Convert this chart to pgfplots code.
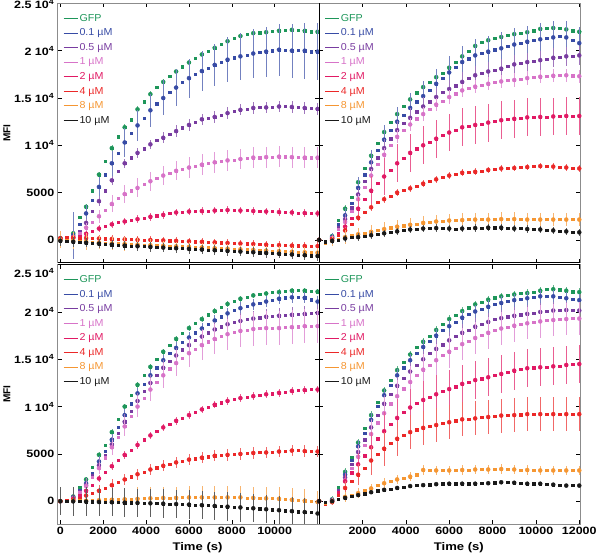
\documentclass[border=0pt]{standalone}
\usepackage{fontspec}
\setmainfont{Liberation Sans}
\newfontfamily\wide{Liberation Sans}[FakeStretch=1.18]
\newfontfamily\lgf{Liberation Sans}[FakeStretch=1.06]
\usepackage{pgfplots}
\pgfplotsset{compat=1.18}
\usepackage{pgfplotstable}

\definecolor{cg}{RGB}{30,150,90}
\definecolor{cb}{RGB}{55,75,165}
\definecolor{cp}{RGB}{120,60,160}
\definecolor{ck}{RGB}{215,115,200}
\definecolor{cc}{RGB}{225,25,100}
\definecolor{cr}{RGB}{235,40,40}
\definecolor{co}{RGB}{245,150,50}
\definecolor{cn}{RGB}{25,25,25}

\newcommand{\tk}{\wide\bfseries\fontsize{10.5}{12}\selectfont}
\newcommand{\xl}{\wide\bfseries\fontsize{11}{13}\selectfont}

\pgfplotstableread{
t g b p k c r o n eg eb ep ek ec er eo en
0 200 100 100 100 100 200 0 -100 300 300 300 300 300 400 900 500
300 300 200 150 150 100 250 -50 -150 300 300 300 300 300 400 900 500
600 700 500 300 300 200 250 -100 -200 300 2500 300 300 300 400 900 500
900 2400 1700 900 700 400 200 -150 -250 300 2500 400 300 300 400 900 500
1200 3500 2800 1800 1300 650 200 -200 -300 300 900 400 500 300 400 900 500
1500 5200 4200 3000 1900 900 180 -250 -350 300 1000 500 600 400 400 900 500
1800 6900 5600 4100 2500 1200 150 -300 -400 300 1100 500 700 400 400 700 500
2100 8300 6900 5200 3100 1450 130 -330 -450 300 1200 500 800 400 400 700 500
2400 9700 8100 6300 3800 1650 100 -370 -500 300 1300 500 900 400 400 700 500
2700 10900 9200 7300 4400 1850 80 -400 -550 300 1400 500 1000 400 400 700 500
3000 11900 10300 8100 4850 1950 60 -430 -600 300 1500 500 1000 400 400 700 500
3300 12700 11300 8700 5200 2100 40 -470 -630 300 1600 500 1000 400 400 700 500
3600 13800 12100 9200 5500 2200 20 -500 -670 300 1650 500 1000 400 400 700 500
3900 14600 12900 9650 5850 2300 0 -530 -700 300 1700 500 1000 400 400 700 500
4200 15400 13700 10100 6200 2450 0 -560 -740 300 1750 500 1000 400 400 700 500
4500 16100 14400 10500 6550 2550 -20 -590 -770 300 1800 600 1000 400 400 700 500
4800 16700 15000 10800 6800 2650 -50 -620 -810 300 1850 600 1000 400 400 500 500
5100 17300 15600 11150 7050 2800 -80 -650 -840 300 1900 600 1000 400 400 500 500
5400 17800 16100 11500 7300 2900 -100 -680 -880 300 1950 600 1000 400 400 500 500
5700 18300 16650 11850 7500 2950 -120 -700 -910 300 2000 600 1100 400 400 500 500
6000 18750 17100 12150 7650 3000 -150 -730 -950 300 2050 600 1100 400 400 500 500
6300 19200 17500 12450 7800 3000 -180 -760 -980 300 2100 600 1100 400 400 500 500
6600 19600 17850 12750 7950 3050 -200 -800 -1020 300 2150 600 1100 400 400 500 500
6900 19950 18150 12900 8100 3050 -230 -830 -1050 300 2200 600 1100 400 400 500 500
7200 20300 18500 13000 8200 3100 -260 -870 -1090 300 2250 600 1100 400 400 500 500
7500 20650 18800 13150 8300 3100 -300 -900 -1120 300 2300 600 1100 400 400 500 500
7800 21000 19050 13400 8400 3150 -320 -930 -1160 300 2350 600 1100 400 400 500 500
8100 21350 19250 13600 8450 3150 -350 -960 -1190 300 2400 600 1100 400 400 500 500
8400 21550 19400 13750 8550 3100 -380 -1000 -1230 300 2450 600 1100 400 400 500 500
8700 21700 19550 13850 8600 3100 -400 -1030 -1260 300 2500 600 1100 400 400 500 500
9000 21850 19700 13950 8700 3050 -430 -1060 -1300 300 2550 600 1100 400 400 500 500
9300 21900 19800 14000 8700 3000 -460 -1100 -1340 300 2600 600 1100 400 400 500 500
9600 21950 19900 14000 8750 3000 -500 -1130 -1380 300 2650 600 1100 400 400 500 500
9900 22050 20000 14050 8750 3000 -520 -1160 -1420 300 2700 600 1100 400 400 500 500
10200 22100 20100 14100 8800 2950 -550 -1190 -1460 300 2750 600 1100 400 400 500 500
10500 22200 20050 14100 8800 2900 -580 -1220 -1500 300 2800 600 1100 400 400 500 500
10800 22200 20000 14050 8750 2900 -600 -1250 -1540 300 2850 600 1100 400 400 500 500
11100 22150 20050 14000 8750 2850 -620 -1280 -1580 300 2900 600 1100 400 400 500 500
11400 22100 20000 13950 8700 2850 -640 -1300 -1620 300 2950 600 1100 400 400 500 500
11700 22000 19900 13900 8700 2800 -650 -1320 -1660 300 3000 600 1100 400 400 500 500
12000 22000 19900 13850 8700 2800 -650 -1350 -1700 300 3000 600 1100 400 400 500 500
}\tlt

\pgfplotstableread{
t g b p k c r o n eg eb ep ek ec er eo en
0 0 0 0 0 0 0 0 0 300 300 300 300 300 300 500 300
300 -200 -200 -200 -200 -250 -250 -300 -200 300 300 300 300 300 300 500 300
600 400 300 200 200 100 100 -100 -100 300 400 300 300 400 300 500 300
900 2100 1600 1300 1100 700 500 100 0 400 600 400 400 600 350 600 400
1200 3300 2600 2200 1900 1400 1000 300 150 400 800 500 500 800 350 700 400
1500 4500 3900 3400 3000 2300 1650 450 250 400 1000 600 500 1000 350 700 400
1800 6100 5500 4800 4300 3300 2350 600 300 400 1100 700 600 1200 350 700 400
2100 7600 6900 6200 5600 4300 2950 700 400 400 1200 800 600 1400 350 700 400
2400 8900 8200 7500 6800 5200 3450 850 500 400 1300 900 700 1600 350 700 400
2700 10200 9500 8700 8000 6000 3950 1000 600 400 1400 1000 700 1800 350 700 400
3000 11400 10600 9700 9000 6700 4300 1150 700 400 1500 1000 700 2000 350 700 400
3300 12400 11600 10700 10000 7400 4650 1300 800 400 1500 1000 700 2000 350 700 400
3600 13300 12500 11600 10900 8100 5000 1400 900 400 1500 1000 700 2000 350 700 400
3900 14100 13200 12300 11600 8600 5250 1500 1000 400 1600 1000 700 2000 350 700 400
4200 14850 13950 12900 12200 9200 5450 1600 1100 400 1600 1000 700 2000 350 700 400
4500 15550 14600 13550 12800 9650 5700 1700 1150 400 1600 1000 700 2000 350 700 400
4800 16150 15200 14100 13300 10000 5950 1800 1200 400 1600 1000 700 2000 350 700 400
5100 16700 15850 14600 13850 10350 6200 1850 1200 400 1600 1000 700 2000 350 700 400
5400 17200 16500 15100 14300 10700 6400 1950 1250 400 1600 1000 700 2000 350 700 400
5700 17650 17100 15600 14700 11050 6600 2000 1200 400 1700 1000 700 2000 350 700 400
6000 18200 17700 15950 15100 11350 6800 2050 1200 400 1700 1000 700 2000 350 700 400
6300 18800 18250 16300 15450 11600 6950 2100 1150 400 1700 1000 700 2000 350 700 400
6600 19400 18800 16700 15800 11900 7100 2100 1200 400 1700 1000 700 2000 350 700 400
6900 19950 19150 17050 16000 12000 7150 2150 1200 400 1700 1000 700 2000 350 700 400
7200 20500 19500 17400 16200 12150 7200 2150 1250 400 1700 1000 700 2000 350 700 400
7500 20900 19750 17650 16350 12250 7300 2150 1250 400 1700 1000 700 2000 350 700 400
7800 21100 19900 17800 16500 12400 7400 2150 1300 400 1700 1000 700 2000 350 700 400
8100 21300 20100 17900 16700 12550 7500 2150 1300 400 1700 1000 700 2000 350 700 400
8400 21450 20250 18100 16750 12650 7550 2200 1300 400 1700 1000 700 2000 350 700 400
8700 21600 20450 18350 16850 12750 7550 2200 1250 400 1700 1000 700 2000 350 700 400
9000 21750 20650 18550 16900 12800 7600 2200 1200 400 1700 1000 700 2000 350 700 400
9300 21850 20800 18650 17000 12850 7650 2150 1200 400 1700 1000 700 2000 350 700 400
9600 21950 20950 18800 17100 12950 7700 2150 1150 400 1700 1000 700 2000 350 700 400
9900 22100 21100 18900 17200 12950 7750 2150 1150 400 1700 1000 700 2000 350 700 400
10200 22300 21200 19000 17250 13000 7800 2150 1100 400 1700 1000 700 2000 350 700 400
10500 22400 21300 19100 17300 13000 7800 2150 1050 400 1700 1000 700 2000 350 700 400
10800 22400 21400 19250 17350 13050 7750 2150 1000 400 1700 1000 700 2000 350 700 400
11100 22350 21500 19350 17400 13100 7700 2150 950 400 1700 1000 700 2000 350 700 400
11400 22250 21400 19400 17400 13100 7650 2150 900 400 1700 1000 700 2000 350 700 400
11700 22100 21100 19450 17350 13100 7600 2150 850 400 1700 1000 700 2000 350 700 400
12000 22000 20800 19500 17300 13100 7550 2150 800 400 1700 1000 700 2000 350 700 400
}\trt

\pgfplotstableread{
t g b p k c r o n eg eb ep ek ec er eo en
0 0 0 0 0 0 0 0 0 300 300 300 300 300 300 1200 1500
300 100 100 100 100 50 50 0 0 300 300 300 300 300 300 1200 1500
600 500 400 400 300 250 150 50 -20 300 300 300 300 300 300 1200 1500
900 1500 1100 1000 900 600 350 50 -30 300 300 300 300 300 300 1200 1500
1200 2300 1900 1700 1600 1100 600 50 -50 300 600 800 400 400 600 1200 1500
1500 3600 3000 2700 2500 1700 850 100 -60 300 600 800 500 400 600 1200 1500
1800 4900 4200 3800 3500 2400 1100 100 -80 300 600 800 600 400 600 1200 1500
2100 5900 5300 4900 4600 3100 1400 150 -100 300 600 800 700 400 600 1200 1500
2400 7300 6500 6000 5700 3700 1700 150 -110 300 600 800 800 400 600 1200 1500
2700 8700 7800 7200 6800 4300 2000 200 -130 300 600 800 900 400 600 1200 1500
3000 10000 9100 8400 7900 4900 2300 200 -150 300 600 800 1000 400 600 1200 1500
3300 11200 10300 9500 9000 5400 2600 250 -160 300 600 800 1050 400 600 1200 1500
3600 12300 11400 10600 10000 5950 2850 250 -180 300 600 800 1100 400 600 1200 1500
3900 13300 12400 11600 10900 6500 3100 300 -200 300 600 800 1150 400 600 1200 1500
4200 14200 13300 12500 11800 6950 3350 300 -220 300 600 800 1200 400 600 1200 1500
4500 15000 14100 13300 12600 7400 3550 300 -240 300 600 800 1250 400 600 1200 1500
4800 15800 14900 14100 13300 7800 3750 350 -260 300 600 800 1300 400 600 1200 1500
5100 16500 15600 14800 14000 8150 3950 350 -280 300 600 800 1350 400 600 1200 1500
5400 17150 16200 15400 14600 8500 4100 350 -300 300 600 800 1400 400 600 1200 1500
5700 17750 16800 16000 15150 8800 4250 400 -330 300 600 800 1450 400 600 1200 1500
6000 18300 17300 16500 15650 9100 4400 400 -360 300 600 800 1500 400 600 1200 1500
6300 18800 17800 17000 16100 9400 4500 400 -390 300 600 800 1550 400 600 1200 1500
6600 19250 18250 17400 16500 9700 4600 400 -420 300 600 800 1550 400 600 1200 1500
6900 19700 18700 17800 16850 9950 4700 400 -460 300 600 800 1600 400 600 1200 1500
7200 20100 19100 18150 17150 10200 4800 400 -500 300 600 800 1600 400 600 1200 1500
7500 20500 19500 18450 17400 10400 4850 400 -540 300 600 800 1650 400 600 1200 1500
7800 20850 19850 18700 17650 10600 4900 400 -580 300 600 800 1650 400 600 1200 1500
8100 21150 20150 18900 17850 10750 4950 400 -620 300 600 800 1700 400 600 1200 1500
8400 21400 20400 19050 18000 10900 5000 400 -660 300 600 800 1700 400 600 1200 1500
8700 21600 20600 19200 18100 11000 5050 350 -700 300 600 800 1750 400 600 1200 1500
9000 21750 20800 19300 18200 11100 5100 350 -750 300 600 800 1800 400 600 1200 1500
9300 21850 20950 19400 18250 11200 5150 350 -800 300 600 800 1800 400 600 1200 1500
9600 21950 21100 19500 18300 11300 5150 300 -850 300 600 800 1800 400 600 1200 1500
9900 22050 21250 19550 18300 11350 5200 300 -900 300 600 800 1800 400 600 1200 1500
10200 22100 21400 19600 18300 11450 5250 250 -950 300 600 800 1800 400 600 1200 1500
10500 22200 21500 19650 18350 11550 5300 200 -1000 300 600 800 1800 400 600 1200 1500
10800 22250 21550 19700 18400 11650 5350 150 -1050 300 600 800 1800 400 600 1200 1500
11100 22300 21600 19750 18450 11700 5350 100 -1100 300 600 800 1800 400 600 1200 1500
11400 22250 21500 19800 18500 11750 5300 50 -1150 300 600 800 1800 400 600 1200 1500
11700 22200 21300 19850 18500 11800 5250 0 -1200 300 600 800 1800 400 600 1200 1500
12000 22150 21100 19900 18500 11800 5250 -100 -1300 300 600 800 1800 400 600 1200 1500
}\blt

\pgfplotstableread{
t g b p k c r o n eg eb ep ek ec er eo en
0 0 0 0 0 0 0 0 0 300 300 300 300 300 300 300 150
300 -300 -300 -300 -300 -300 -300 -200 -100 300 300 300 300 300 300 300 150
600 200 100 100 0 0 -100 0 0 300 300 300 300 300 300 300 150
900 1500 1200 1100 900 900 600 200 200 400 400 400 500 600 500 400 150
1200 3100 2800 2500 2200 2100 1400 450 350 400 500 500 700 800 700 500 150
1500 4600 4300 3900 3500 3000 2100 650 500 400 600 600 900 1000 900 500 150
1800 6200 5800 5200 4700 3900 2800 850 650 400 700 700 1100 1200 1100 500 150
2100 7700 7200 6500 5900 4800 3500 1100 800 400 700 800 1300 1400 1300 500 150
2400 9100 8600 7800 7100 5700 4300 1350 950 400 700 900 1500 1600 1500 500 150
2700 10500 10000 9100 8300 6600 4950 1650 1100 400 700 900 1600 1800 1650 500 150
3000 11700 11200 10300 9300 7400 5550 1900 1200 400 700 900 1700 2000 1800 500 150
3300 12800 12300 11300 10300 8100 6100 2100 1300 400 700 900 1700 2000 1800 500 150
3600 13850 13300 12200 11100 8800 6600 2300 1400 400 700 900 1700 2000 1800 500 150
3900 14700 14100 13000 11900 9400 6950 2450 1500 400 700 900 1700 2000 1800 500 150
4200 15500 14900 13700 12600 9900 7300 2600 1600 400 700 900 1700 2000 1800 500 150
4500 16250 15600 14400 13300 10350 7550 2800 1650 400 700 900 1700 2000 1800 500 150
4800 16850 16300 15000 13900 10700 7750 3300 1700 400 700 900 1700 2000 1800 500 150
5100 17450 16950 15600 14400 11000 7900 3300 1750 400 700 900 1700 2000 1800 500 150
5400 18100 17500 16100 14900 11300 8050 3250 1800 400 700 900 1700 2000 1800 500 150
5700 18700 18050 16550 15400 11600 8250 3250 1850 400 700 900 1700 2000 1800 500 150
6000 19250 18500 17000 15800 11850 8350 3250 1850 400 700 900 1700 2000 1800 500 150
6300 19650 18950 17400 16200 12100 8500 3250 1850 400 700 900 1700 2000 1800 500 150
6600 20100 19400 17800 16600 12400 8650 3300 1850 400 700 900 1700 2000 1800 500 150
6900 20450 19750 18100 16950 12600 8700 3300 1850 400 700 900 1700 2000 1800 500 150
7200 20800 20050 18450 17250 12800 8750 3350 1850 400 700 900 1700 2000 1800 500 150
7500 21050 20300 18700 17550 12950 8850 3350 1900 400 700 900 1700 2000 1800 500 150
7800 21300 20550 18950 17800 13100 8900 3350 1900 400 700 900 1700 2000 1800 500 150
8100 21500 20800 19200 18050 13300 9000 3400 1950 400 700 900 1700 2000 1800 500 150
8400 21650 20950 19350 18250 13450 9050 3400 2000 400 700 900 1700 2000 1800 500 150
8700 21750 21100 19500 18400 13650 9100 3350 2000 400 700 900 1700 2000 1800 500 150
9000 21850 21250 19600 18550 13800 9100 3350 1950 400 700 900 1700 2000 1800 500 150
9300 21950 21350 19700 18700 13950 9150 3300 1900 400 700 900 1700 2000 1800 500 150
9600 22000 21450 19800 18800 14050 9200 3300 1850 400 700 900 1700 2000 1800 500 150
9900 22100 21550 19900 18900 14100 9200 3300 1850 400 700 900 1700 2000 1800 500 150
10200 22250 21650 20000 19000 14150 9200 3250 1850 400 700 900 1700 2000 1800 500 150
10500 22400 21700 20100 19100 14200 9200 3250 1800 400 700 900 1700 2000 1800 500 150
10800 22400 21650 20150 19150 14250 9200 3250 1750 400 700 900 1700 2000 1800 500 150
11100 22350 21550 20200 19200 14300 9200 3250 1700 400 700 900 1700 2000 1800 500 150
11400 22250 21450 20200 19250 14400 9200 3250 1650 400 700 900 1700 2000 1800 500 150
11700 22150 21350 20200 19300 14450 9200 3250 1650 400 700 900 1700 2000 1800 500 150
12000 22100 21250 20150 19300 14500 9200 3250 1650 400 700 900 1700 2000 1800 500 150
}\brt

\pgfplotsset{
  mk/.style={color=#1, only marks, mark=square*, mark size=1.1pt},
  bar/.style={forget plot, color=#1, only marks, mark=none,
    each nth point=2, filter discard warning=false,
    error bars/.cd, y dir=both, y explicit, error mark=none,
    error bar style={color=#1!70, line width=0.45pt}},
  legend image code/.code={\draw[#1, /tikz/mark=none, /tikz/line width=1pt] (0pt,0pt) -- (14pt,0pt);},
  panel/.style={
    scale only axis, width=259pt, height=257pt,
    ymin=-2400, ymax=25000,
    ytick={0,5000,10000,15000,20000,25000},
    tick align=inside,
    axis line style={draw=black!45, line width=0.6pt},
    major tick length=4pt,
    tick style={black, line width=0.5pt},
    scaled ticks=false,
    /pgf/number format/1000 sep={},
    /pgf/number format/assume math mode=true,
    tick label style={font=\tk},
    clip mode=individual,
    legend cell align=left,
    legend style={at={(0.02,0.965)}, anchor=north west, draw=none, fill=none,
      font=\lgf\fontsize{10}{12}\selectfont, row sep=2.5pt, inner sep=0pt,
      nodes={inner sep=1.2pt, text height=7.5pt, text depth=2pt}},
  },
  ylab/.style={ylabel={MFI}, ylabel style={font=\bfseries\fontsize{10}{12}\selectfont, at={(axis description cs:-0.195,0.5)}, anchor=center}},
  xlab/.style={xlabel={Time (s)}, xlabel style={font=\xl, at={(axis description cs:0.535,-0.09)}, anchor=center}},
}

\newcommand{\one}[4]{%
  \addplot[bar=#1] table[x=t, y=#2, y error=#3] {#4};
  \addplot[mk=#1] table[x=t, y=#2] {#4};
}
\newcommand{\allplots}[1]{%
  \one{cg}{g}{eg}{#1}\addlegendentry{\textcolor{cg}{GFP}}
  \one{cb}{b}{eb}{#1}\addlegendentry{\textcolor{cb}{0.1 µM}}
  \one{cp}{p}{ep}{#1}\addlegendentry{\textcolor{cp}{0.5 µM}}
  \one{ck}{k}{ek}{#1}\addlegendentry{\textcolor{ck}{1 µM}}
  \one{cc}{c}{ec}{#1}\addlegendentry{\textcolor{cc}{2 µM}}
  \one{cr}{r}{er}{#1}\addlegendentry{\textcolor{cr}{4 µM}}
  \one{co}{o}{eo}{#1}\addlegendentry{\textcolor{co}{8 µM}}
  \one{cn}{n}{en}{#1}\addlegendentry{\textcolor{cn}{10 µM}}
}

\begin{document}
\begin{tikzpicture}
% top left
\begin{axis}[panel, ylab, at={(0pt,0pt)}, anchor=south west,
  yticklabels={0,5000,{1 10\textsuperscript{4}},{1.5 10\textsuperscript{4}},{2 10\textsuperscript{4}},{\raisebox{-5pt}[0pt][0pt]{2.5 10\textsuperscript{4}}}},
  xmin=-120, xmax=12070, xtick={0,2000,4000,6000,8000,10000}, xticklabels={}]
\allplots{\tlt}
\draw[black, line width=1pt] (rel axis cs:1,0) -- (rel axis cs:1,1);
\draw[black, line width=1pt] (rel axis cs:0,0) -- (rel axis cs:1,0);
\end{axis}
% top right
\begin{axis}[panel, at={(259pt,0pt)}, anchor=south west,
  xmin=0, xmax=12050, xtick={2000,4000,6000,8000,10000,12000}, xticklabels={}, yticklabels={}]
\allplots{\trt}
\draw[black, line width=1pt] (rel axis cs:0,0) -- (rel axis cs:0,1);
\draw[black, line width=1pt] (rel axis cs:0,0) -- (rel axis cs:1,0);
\end{axis}
% bottom left
\begin{axis}[panel, ylab, xlab, at={(0pt,-2pt)}, anchor=north west,
  yticklabels={0,5000,{1 10\textsuperscript{4}},{1.5 10\textsuperscript{4}},{2 10\textsuperscript{4}},{\raisebox{-13pt}[0pt][0pt]{2.5 10\textsuperscript{4}}}},
  xmin=-120, xmax=12070, xtick={0,2000,4000,6000,8000,10000}]
\allplots{\blt}
\draw[black, line width=1pt] (rel axis cs:1,0) -- (rel axis cs:1,1);
\draw[black, line width=1pt] (rel axis cs:0,1) -- (rel axis cs:1,1);
\end{axis}
% bottom right
\begin{axis}[panel, xlab, at={(259pt,-2pt)}, anchor=north west,
  xmin=0, xmax=12050, xtick={2000,4000,6000,8000,10000,12000}, yticklabels={}]
\allplots{\brt}
\draw[black, line width=1pt] (rel axis cs:0,0) -- (rel axis cs:0,1);
\draw[black, line width=1pt] (rel axis cs:0,1) -- (rel axis cs:1,1);
\end{axis}
\end{tikzpicture}
\end{document}
